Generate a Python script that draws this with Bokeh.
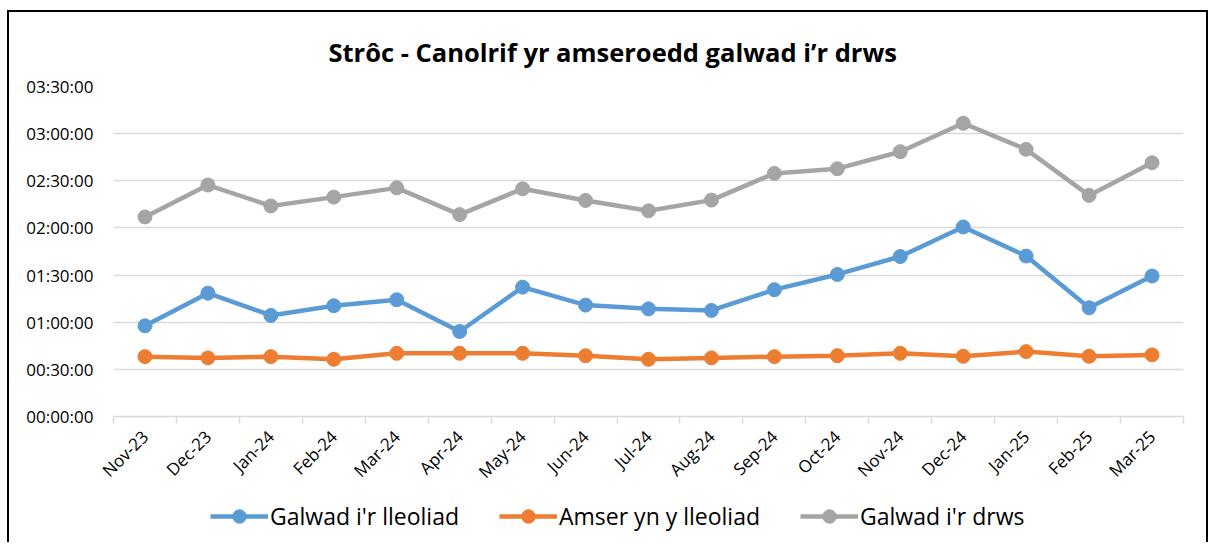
import math
from bokeh.plotting import figure
from bokeh.layouts import column
from bokeh.models import ColumnDataSource, FixedTicker, Legend, LegendItem, Range1d
from bokeh.embed import file_html
from bokeh.resources import INLINE

months = ["Nov-23", "Dec-23", "Jan-24", "Feb-24", "Mar-24", "Apr-24", "May-24", "Jun-24",
          "Jul-24", "Aug-24", "Sep-24", "Oct-24", "Nov-24", "Dec-24", "Jan-25", "Feb-25", "Mar-25"]
# values in minutes
galwad_lleoliad = [57.7, 78.5, 64.3, 70.5, 74.3, 54.1, 82.3, 70.9, 68.5, 67.5, 80.7, 90.4, 101.8, 120.6, 102.1, 69.2, 89.4]
amser_lleoliad = [38.1, 37.3, 38.1, 36.4, 40.2, 40.2, 40.2, 38.7, 36.4, 37.3, 38.1, 38.7, 40.2, 38.3, 41.3, 38.3, 39.2]
galwad_drws = [127.0, 147.3, 134.0, 139.6, 145.5, 128.5, 144.9, 137.5, 130.9, 137.7, 154.7, 157.7, 168.5, 186.6, 170.0, 140.7, 161.5]
y_ticks = [0, 30, 60, 90, 120, 150, 180, 210]
y_tick_labels = ["00:00:00", "00:30:00", "01:00:00", "01:30:00", "02:00:00", "02:30:00", "03:00:00", "03:30:00"]

series_names = ["Galwad i'r lleoliad", "Amser yn y lleoliad", "Galwad i'r drws"]
colors = ["#5B9BD5", "#ED7D31", "#A5A5A5"]

FONT = "Open Sans"
n = len(months)
xs = list(range(n))
W = 1197

p = figure(width=W, height=482, output_backend="svg", toolbar_location=None,
           x_range=Range1d(-0.5, n - 0.5), y_range=Range1d(0, 210),
           min_border_left=104, min_border_right=23, min_border_top=74, min_border_bottom=78)
p.outline_line_color = None
p.background_fill_color = "white"
p.border_fill_color = "white"

p.title.text = "Strôc - Canolrif yr amseroedd galwad i’r drws"
p.title.text_font = FONT
p.title.text_font_size = "25.5px"
p.title.text_font_style = "bold"
p.title.text_color = "#000000"
p.title.align = "left"
p.title.offset = 215
p.title.standoff = 36

# grid
p.xgrid.grid_line_color = None
p.ygrid.grid_line_color = "#D9D9D9"
p.ygrid.grid_line_width = 1.5

# y axis
p.yaxis.ticker = FixedTicker(ticks=y_ticks)
p.yaxis.major_label_overrides = {t: l for t, l in zip(y_ticks, y_tick_labels)}
p.yaxis.axis_line_color = None
p.yaxis.major_tick_line_color = None
p.yaxis.minor_tick_line_color = None
p.yaxis.major_label_text_font = FONT
p.yaxis.major_label_text_font_size = "17px"
p.yaxis.major_label_text_color = "#000000"
p.yaxis.major_label_standoff = 14

# x axis
p.xaxis.ticker = FixedTicker(ticks=xs, minor_ticks=[i - 0.5 for i in range(n + 1)])
p.xaxis.major_label_overrides = {i: m for i, m in enumerate(months)}
p.xaxis.axis_line_color = "#D9D9D9"
p.xaxis.axis_line_width = 1.5
p.xaxis.major_tick_line_color = None
p.xaxis.minor_tick_line_color = "#D9D9D9"
p.xaxis.minor_tick_line_width = 1.5
p.xaxis.minor_tick_out = 7
p.xaxis.minor_tick_in = 0
p.xaxis.major_label_orientation = math.pi / 4
p.xaxis.major_label_text_font = FONT
p.xaxis.major_label_text_font_size = "17px"
p.xaxis.major_label_text_color = "#000000"
p.xaxis.major_label_standoff = 10

sources = []
for name, vals, col in zip(series_names, [galwad_lleoliad, amser_lleoliad, galwad_drws], colors):
    src = ColumnDataSource(dict(x=xs, y=vals))
    sources.append(src)
    p.line("x", "y", source=src, line_color=col, line_width=4.5)
    p.scatter("x", "y", source=src, size=14, fill_color=col, line_color=col)

# legend strip below the chart (same data, scrolled out of its view)
lg = figure(width=W, height=48, output_backend="svg", toolbar_location=None,
            x_range=Range1d(-0.5, n - 0.5), y_range=Range1d(-1001, -1000),
            min_border_left=0, min_border_right=0, min_border_top=0, min_border_bottom=0)
lg.axis.visible = False
lg.grid.visible = False
lg.outline_line_color = None
lg.border_fill_color = "white"
items = []
for name, col, src in zip(series_names, colors, sources):
    r1 = lg.line("x", "y", source=src, line_color=col, line_width=4.5)
    r2 = lg.scatter("x", "y", source=src, size=14, fill_color=col, line_color=col)
    items.append(LegendItem(label=name, renderers=[r1, r2]))
legend = Legend(items=items, orientation="horizontal", location=(97, 9),
                label_text_font=FONT, label_text_font_size="23px", label_text_color="#000000",
                glyph_width=58, glyph_height=34, spacing=40, label_standoff=2,
                border_line_color=None, background_fill_alpha=0, margin=0, padding=0)
lg.add_layout(legend, "center")

layout = column(p, lg, spacing=0)
layout.styles = {"margin-top": "10px", "margin-left": "7px",
                 "border-top": "2px solid #000", "border-left": "2px solid #000",
                 "border-right": "2px solid #000"}

open("out.html", "w").write(file_html(layout, INLINE))
